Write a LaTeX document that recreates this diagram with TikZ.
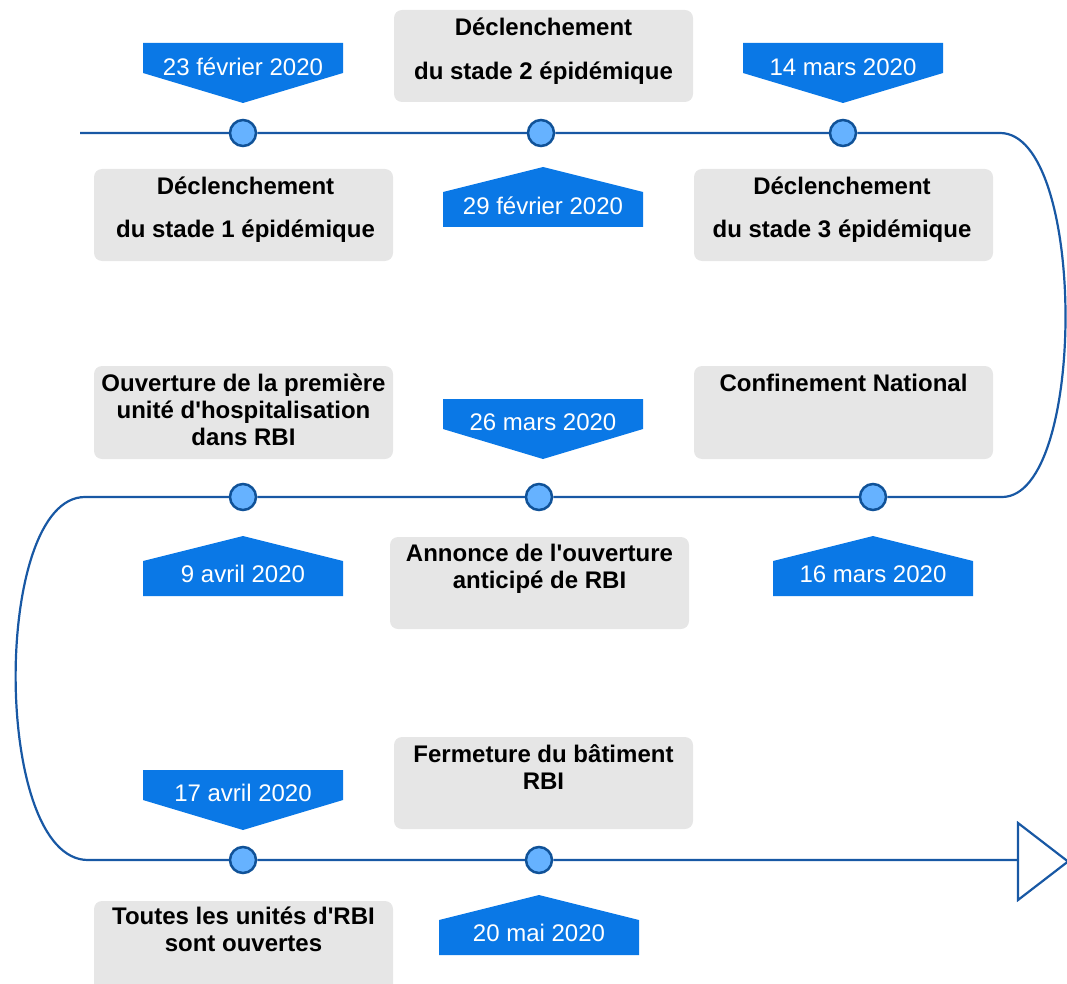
\documentclass[tikz,border=0pt]{standalone}
\usepackage{fontspec}
\setmainfont{Liberation Sans}[Ligatures=TeXOff]
\definecolor{tl}{RGB}{24,88,164}
\definecolor{dotfill}{RGB}{102,178,255}
\definecolor{dotline}{RGB}{16,82,152}
\definecolor{banner}{RGB}{10,120,230}
\definecolor{boxgray}{RGB}{230,230,230}
% down-pointing date banner: centre x, top y
\newcommand\downbanner[2]{%
  \fill[banner] ({#1-100},#2) -- ({#1+100},#2) -- ({#1+100},{#2+30})
    -- (#1,{#2+60}) -- ({#1-100},{#2+30}) -- cycle;}
% up-pointing date banner: centre x, apex y
\newcommand\upbanner[2]{%
  \fill[banner] (#1,#2) -- ({#1+100},{#2+25}) -- ({#1+100},{#2+60})
    -- ({#1-100},{#2+60}) -- ({#1-100},{#2+25}) -- cycle;}
\begin{document}
\begin{tikzpicture}[x=1pt,y=-1pt,
  graybox/.style={fill=boxgray, rounded corners=8pt, minimum width=299pt,
    minimum height=92pt, inner sep=0pt, draw=none},
  boxtext/.style={font=\bfseries\fontsize{24}{27}\selectfont, align=center,
    anchor=north, inner sep=0pt},
  datetext/.style={text=white, font=\fontsize{24}{27}\selectfont, inner sep=0pt},
  dot/.style={circle, fill=dotfill, draw=dotline, line width=2.5pt,
    minimum size=26pt, inner sep=0pt},
  timeline/.style={draw=tl, line width=2.2pt},
]
\useasboundingbox (0,0) rectangle (1067,984);

% grey event boxes
\node[graybox] (b2) at (543.5,56) {};
\node[graybox] (b1) at (243.5,215) {};
\node[graybox] (b3) at (843.5,215) {};
\node[graybox, minimum height=93pt] (b4) at (243.5,412.5) {};
\node[graybox, minimum height=93pt] (b5) at (843.5,412.5) {};
\node[graybox] (b6) at (539.5,583) {};
\node[graybox] (b7) at (543.5,783) {};
\node[graybox] (b8) at (243.5,947) {};

\def\st{\rule{0pt}{20pt}}
\node[boxtext] (t2) at (543.5,15.5) {\st Déclenchement\\[17pt]du stade 2 épidémique};
\node[boxtext] (t1) at (245.5,174.5) {\st Déclenchement\\[16pt]du stade 1 épidémique};
\node[boxtext] (t3) at (842,174.5) {\st Déclenchement\\[16pt]du stade 3 épidémique};
\node[boxtext] (t4) at (243.5,371.5) {\st Ouverture de la première\\unité d'hospitalisation\\dans RBI};
\node[boxtext] (t5) at (843.5,371.5) {\st Confinement National};
\node[boxtext] (t6) at (539.5,541.5) {\st Annonce de l'ouverture\\anticipé de RBI};
\node[boxtext] (t7) at (543.5,742.5) {\st Fermeture du bâtiment\\RBI};
\node[boxtext] (t8) at (243.5,904.5) {\st Toutes les unités d'RBI\\sont ouvertes};

% date banners
\downbanner{243}{43}  \node[datetext] (l1) at (243,67) {23 février 2020};
\downbanner{843}{43}  \node[datetext] (l3) at (843,67) {14 mars 2020};
\upbanner{543}{167}   \node[datetext] (l2) at (543,206) {29 février 2020};
\downbanner{543}{399} \node[datetext] (l5) at (543,422) {26 mars 2020};
\upbanner{243}{536}   \node[datetext] (l6) at (243,574) {9 avril 2020};
\upbanner{873}{536}   \node[datetext] (l4) at (873,574) {16 mars 2020};
\downbanner{243}{770} \node[datetext] (l7) at (243,793) {17 avril 2020};
\upbanner{539}{895}   \node[datetext] (l8) at (539,933) {20 mai 2020};

% timeline milestones
\node[dot] (d1) at (243,133) {};
\node[dot] (d2) at (541,133) {};
\node[dot] (d3) at (843,133) {};
\node[dot] (d4) at (873,497) {};
\node[dot] (d5) at (539,497) {};
\node[dot] (d6) at (243,497) {};
\node[dot] (d7) at (243,860) {};
\node[dot] (d8) at (539,860) {};

\coordinate (s) at (80,133);
\coordinate (e1) at (1000,133);
\coordinate (e2) at (1002,497);
\coordinate (w2) at (85,497);
\coordinate (w3) at (88,860);
\coordinate (end) at (1018,860);

% the winding timeline
\path[timeline] (s) -- (d1) -- (d2) -- (d3) -- (e1)
  .. controls (1087,133) and (1087,497) .. (e2)
  -- (d4) -- (d5) -- (d6) -- (w2)
  .. controls (-8,497) and (-8,860) .. (w3)
  -- (d7) -- (d8) -- (end);

% open arrow head at the end
\draw[draw=tl, line width=2.2pt, fill=white, line join=miter]
  (1018,823) -- (1068,861.5) -- (1018,900) -- cycle;
\end{tikzpicture}
\end{document}
